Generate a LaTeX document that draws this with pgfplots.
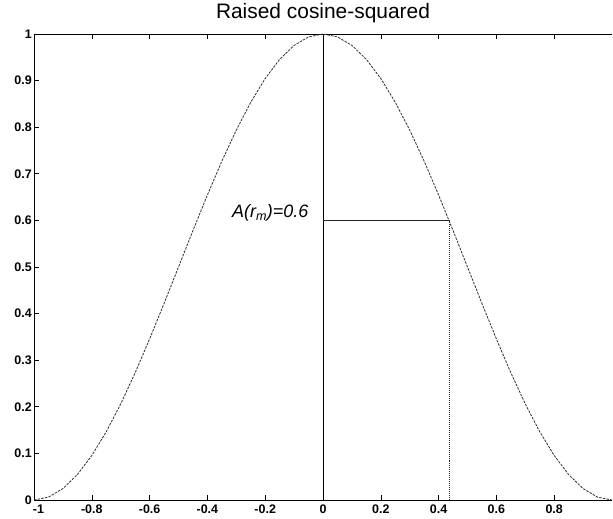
\documentclass[border=0pt]{standalone}
\usepackage{fontspec}
\setmainfont{Liberation Sans}
\usepackage{pgfplots}
\pgfplotsset{compat=1.18}

\begin{document}
\begin{tikzpicture}
\begin{axis}[
  scale only axis,
  width=578bp, height=466bp,
  xmin=-1, xmax=1, ymin=0, ymax=1,
  axis x line=box, axis y line=left,
  axis line style={black, line width=0.7pt, -},
  xtick={-1,-0.8,-0.6,-0.4,-0.2,0,0.2,0.4,0.6,0.8},
  xticklabels={\hspace*{9bp}-1,-0.8,-0.6,-0.4,-0.2,0,0.2,0.4,0.6,0.8},
  ytick={0,0.1,0.2,0.3,0.4,0.5,0.6,0.7,0.8,0.9,1},
  yticklabels={0,0.1,0.2,0.3,0.4,0.5,0.6,0.7,0.8,0.9,1},
  tick align=inside,
  major tick length=5bp,
  tick style={black, line width=0.6pt},
  tick label style={font=\bfseries\fontsize{12.5}{12.5}\selectfont},
  xticklabel style={inner sep=0.5bp, yshift=-4.5bp},
  yticklabel style={inner sep=1bp, xshift=-1bp},
  clip=false,
]
% raised cosine-squared pulse
\addplot[gray!35!black, line width=0.8pt, dash pattern=on 2.5pt off 1.2pt] coordinates {
  (-1,0) (-0.95,0.00616) (-0.9,0.02447) (-0.85,0.05450) (-0.8,0.09549)
  (-0.75,0.14645) (-0.7,0.20611) (-0.65,0.27300) (-0.6,0.34549)
  (-0.55,0.42178) (-0.5,0.5) (-0.45,0.57822) (-0.4,0.65451)
  (-0.35,0.72700) (-0.3,0.79389) (-0.25,0.85355) (-0.2,0.90451)
  (-0.15,0.94550) (-0.1,0.97553) (-0.05,0.99384) (0,1)
  (0.05,0.99384) (0.1,0.97553) (0.15,0.94550) (0.2,0.90451)
  (0.25,0.85355) (0.3,0.79389) (0.35,0.72700) (0.4,0.65451)
  (0.45,0.57822) (0.5,0.5) (0.55,0.42178) (0.6,0.34549)
  (0.65,0.27300) (0.7,0.20611) (0.75,0.14645) (0.8,0.09549)
  (0.85,0.05450) (0.9,0.02447) (0.95,0.00616) (1,0)
};
% centre line
\addplot[black, line width=0.8pt] coordinates {(0,0) (0,1)};
% level A(r_m) = 0.6
\addplot[black!85, line width=0.8pt] coordinates {(0,0.6) (0.436,0.6)};
\addplot[black!85, line width=1pt, densely dotted] coordinates {(0.436,0.6) (0.436,0)};
\node[anchor=east, font=\itshape\fontsize{18}{18}\selectfont, inner sep=0pt]
  at (axis cs:-0.05,0.616) {A(r\textsubscript{m})=0.6};
% title
\node[anchor=base, font=\fontsize{21}{21}\selectfont, inner sep=0pt]
  at ([yshift=15bp]rel axis cs:0.5,1) {Raised cosine-squared};
\coordinate (boxsw) at (rel axis cs:0,0);
\coordinate (boxne) at (rel axis cs:1,1);
\end{axis}
\pgfresetboundingbox
\useasboundingbox ([xshift=-34bp,yshift=-19bp]boxsw) rectangle ([xshift=1bp,yshift=34bp]boxne);
\end{tikzpicture}
\end{document}
